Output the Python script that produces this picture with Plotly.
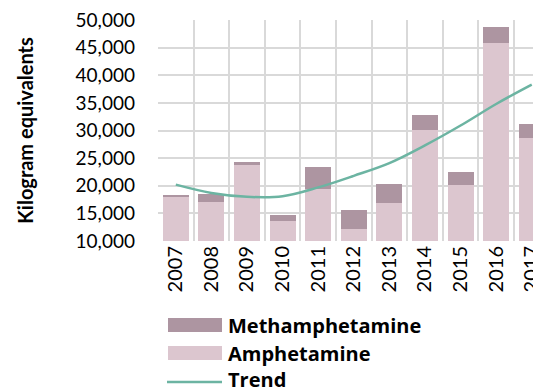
import plotly.graph_objects as go

# Data
years = ['2007', '2008', '2009', '2010', '2011', '2012', '2013', '2014', '2015', '2016', '2017']
amphetamine = [18000, 17100, 23700, 13550, 19500, 12100, 16800, 30100, 20200, 45900, 28600]
totals = [18300, 18450, 24350, 14700, 23400, 15700, 20400, 32750, 22400, 48800, 31200]
trend = [20200, 18700, 18000, 18100, 19700, 21800, 24100, 27300, 30900, 34800, 38300]
methamphetamine = [t - a for t, a in zip(totals, amphetamine)]

COLORS = {
    'meth': '#ad95a1',
    'amph': '#dcc6cf',
    'trend': '#6cb4a2',
    'grid': '#d9d9d9',
    'text': '#000000',
}
FONT = "Lato, 'Open Sans', sans-serif"
LEGEND_FONT = "'Open Sans', Lato, sans-serif"

# the html body adds an 8px margin, so the figure is drawn 8px smaller
OFF = 8
W, H = 541 - OFF, 392 - OFF
L, R, T, B = 158 - OFF, 0, 20 - OFF, 151
PW, PH = W - L - R, H - T - B


def px(x):
    return (x - OFF - L) / PW


def py(y):
    return (H - B - (y - OFF)) / PH


fig = go.Figure()
fig.add_trace(go.Bar(x=years, y=amphetamine, name='Amphetamine',
                     marker=dict(color=COLORS['amph'], line_width=0)))
fig.add_trace(go.Bar(x=years, y=methamphetamine, name='Methamphetamine',
                     marker=dict(color=COLORS['meth'], line_width=0)))
fig.add_trace(go.Scatter(x=years, y=trend, name='Trend', mode='lines',
                         line=dict(color=COLORS['trend'], width=2.5, shape='spline')))

# hand-made legend to get the wide Excel-style swatches
legend_items = [('Methamphetamine', 'rect', COLORS['meth'], 325),
                ('Amphetamine', 'rect', COLORS['amph'], 353),
                ('Trend', 'line', COLORS['trend'], 379)]
shapes, annotations = [], []
for label, kind, color, yc in legend_items:
    if kind == 'rect':
        shapes.append(dict(type='rect', xref='paper', yref='paper',
                           x0=px(168), x1=px(222), y0=py(yc - 7), y1=py(yc + 7),
                           fillcolor=color, line_width=0))
    else:
        shapes.append(dict(type='line', xref='paper', yref='paper',
                           x0=px(167), x1=px(222), y0=py(yc + 3), y1=py(yc + 3),
                           line=dict(color=color, width=2.5)))
    annotations.append(dict(text=f'<b>{label}</b>', xref='paper', yref='paper',
                            x=px(226), y=py(yc), xanchor='left', yanchor='middle',
                            showarrow=False,
                            font=dict(size=20, color=COLORS['text'], family=LEGEND_FONT)))

fig.update_layout(
    width=W, height=H,
    barmode='stack', bargap=0.27,
    paper_bgcolor='white', plot_bgcolor='white',
    margin=dict(l=L, r=R, t=T, b=B, pad=0),
    showlegend=False,
    font=dict(family=FONT, color=COLORS['text']),
    shapes=shapes, annotations=annotations,
    xaxis=dict(type='category', range=[-0.5, 10.26], tickson='boundaries',
               showgrid=True, gridcolor=COLORS['grid'], gridwidth=1.5,
               tickangle=-90, tickfont=dict(size=20), ticks='', showline=False,
               zeroline=False, automargin=False, ticklabeloverflow='allow'),
    yaxis=dict(range=[10000, 50000], dtick=5000, tickformat=',',
               showgrid=True, gridcolor=COLORS['grid'], gridwidth=1.5,
               tickfont=dict(size=19), ticks='', zeroline=False, automargin=False,
               ticklabelstandoff=22, ticklabeloverflow='allow',
               title=dict(text='<b>Kilogram equivalents</b>', font=dict(size=20), standoff=36)),
)

fig.write_html("out.html")
